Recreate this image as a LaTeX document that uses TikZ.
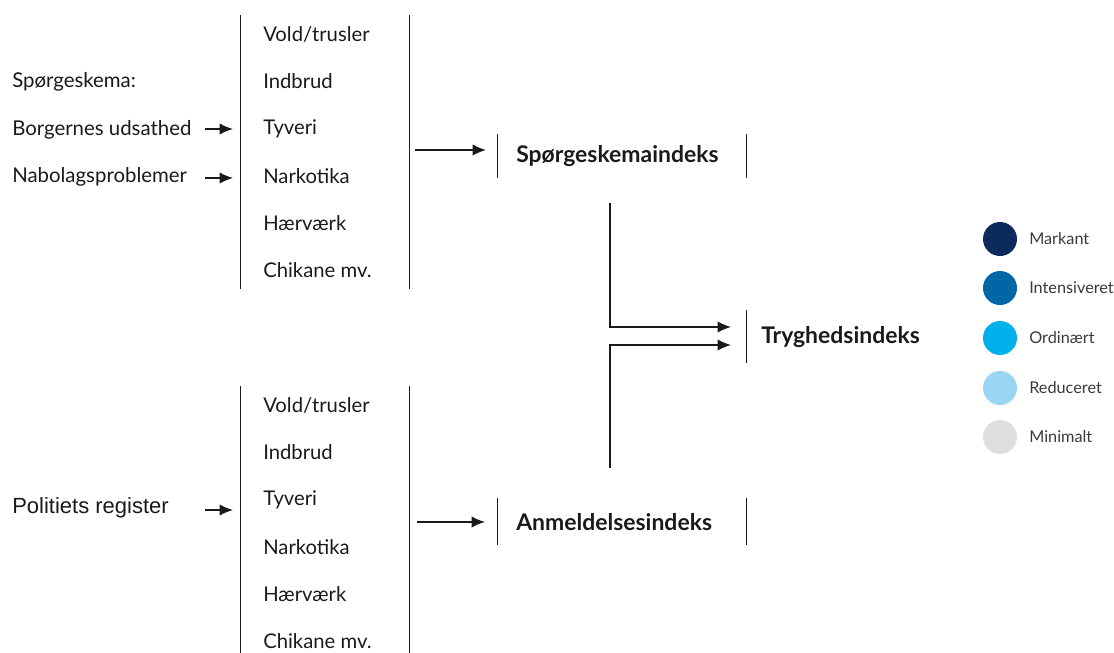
\documentclass[tikz,border=0pt]{standalone}
\usepackage{fontspec}
\setmainfont{Lato}
\newfontfamily\arialfont{Liberation Sans}
\usetikzlibrary{arrows.meta}
\definecolor{cMarkant}{HTML}{0C2A5B}
\definecolor{cIntens}{HTML}{0066A6}
\definecolor{cOrdin}{HTML}{00B0EA}
\definecolor{cReduc}{HTML}{99D5F5}
\definecolor{cMinim}{HTML}{DEDEDE}
\definecolor{txt}{HTML}{1A1A1A}
\definecolor{legtxt}{HTML}{3A3A3A}
\tikzset{
  item/.style={anchor=west,inner sep=0pt,font=\fontsize{15.2}{17}\selectfont,text=txt},
  src/.style={anchor=west,inner sep=0pt,font=\fontsize{15.3}{17}\selectfont,text=txt},
  idx/.style={anchor=west,inner sep=0pt,font=\fontsize{17.2}{19}\selectfont\bfseries,text=txt},
  bar/.style={draw=txt,line width=0.75pt},
  conn/.style={draw=txt,line width=1.1pt,-{Latex[length=10pt,width=8.5pt]}},
  legdot/.style={circle,fill=#1,minimum size=25.5pt,inner sep=0pt},
  legtxt/.style={anchor=west,inner sep=0pt,font=\fontsize{12.2}{14}\selectfont,text=legtxt},
}
\begin{document}
\begin{tikzpicture}[x=0.75pt,y=-0.75pt]
\useasboundingbox (0,0) rectangle (1114,653);
% top group bars
\draw[bar] (240,15) -- (240,289);
\draw[bar] (409,15) -- (409,289);
\foreach \t/\y [count=\i] in {{Vold/trusler}/34,Indbrud/81,Tyveri/129,Narkotika/176,H{\ae}rv{\ae}rk/223,Chikane mv./270}{
  \node[item] (t\i) at (263,\y) {\t};
}
\node[src] (sq) at (12,82) {Spørgeskema:};
\node[src] (bu) at (12,130) {Borgernes udsathed};
\node[src] (np) at (12,177) {Nabolagsproblemer};
\coordinate (bu1) at (205,129); \coordinate (bu2) at (233,129);
\coordinate (np1) at (205,178); \coordinate (np2) at (233,178);
\draw[conn] (bu1) -- (bu2);
\draw[conn] (np1) -- (np2);
% Spoergeskemaindeks
\draw[bar] (497,134) -- (497,178);
\draw[bar] (746,134) -- (746,178);
\node[idx] (si) at (516,156) {Spørgeskemaindeks};
\coordinate (a1) at (415,150); \coordinate (a2) at (486,150);
\draw[conn] (a1) -- (a2);
% Tryghedsindeks
\draw[bar] (746,310) -- (746,363);
\node[idx] (ti) at (761,337) {Tryghedsindeks};
\coordinate (v1) at (610,203); \coordinate (v1e) at (731,327);
\coordinate (v2) at (610,468); \coordinate (v2e) at (731,345);
\draw[conn] (v1) |- (v1e);
\draw[conn] (v2) |- (v2e);
% bottom group
\draw[bar] (240,386) -- (240,653);
\draw[bar] (409,386) -- (409,653);
\foreach \t/\y [count=\i] in {{Vold/trusler}/405,Indbrud/452,Tyveri/500,Narkotika/547,H{\ae}rv{\ae}rk/594,Chikane mv./641}{
  \node[item] (b\i) at (263,\y) {\t};
}
\node[src,font=\arialfont\fontsize{16.5}{18}\selectfont] (pr) at (12,508) {Politiets register};
\coordinate (pr1) at (205,510); \coordinate (pr2) at (233,510);
\draw[conn] (pr1) -- (pr2);
\draw[bar] (497,498) -- (497,545);
\draw[bar] (746,498) -- (746,545);
\node[idx] (ai) at (516,522) {Anmeldelsesindeks};
\coordinate (c1) at (417,522); \coordinate (c2) at (485,522);
\draw[conn] (c1) -- (c2);
% legend
\node[legdot=cMarkant] (l1) at (1000,239) {};
\node[legdot=cIntens] (l2) at (1000,288) {};
\node[legdot=cOrdin] (l3) at (1000,338) {};
\node[legdot=cReduc] (l4) at (1000,388) {};
\node[legdot=cMinim] (l5) at (1000,437) {};
\node[legtxt] (lt1) at (1029,239) {Markant};
\node[legtxt] (lt2) at (1029,288) {Intensiveret};
\node[legtxt] (lt3) at (1029,338) {Ordinært};
\node[legtxt] (lt4) at (1029,388) {Reduceret};
\node[legtxt] (lt5) at (1029,437) {Minimalt};
\end{tikzpicture}
\end{document}
